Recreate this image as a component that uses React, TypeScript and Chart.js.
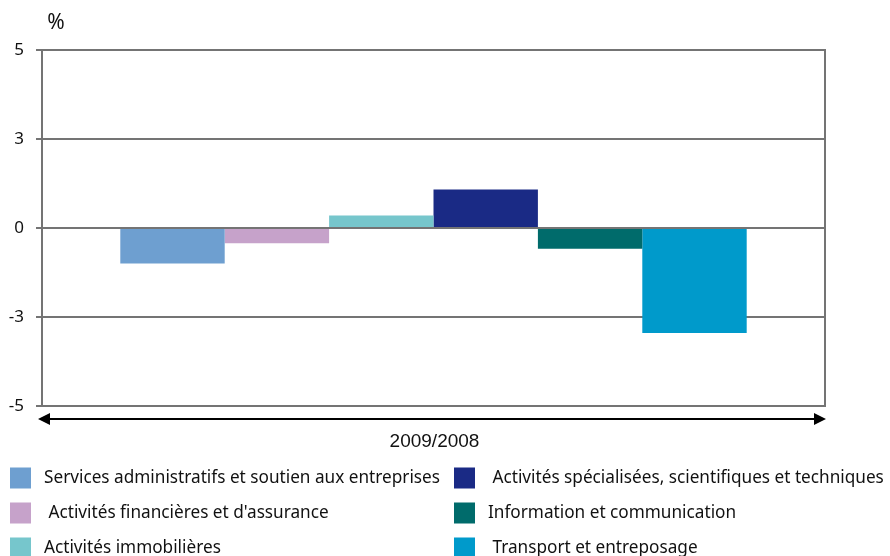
import React, { useEffect, useRef } from "react";
import { Chart, registerables } from "chart.js";

Chart.register(...registerables);

const categories = ["2009/2008"];
const seriesNames = [
  "Services administratifs et soutien aux entreprises",
  " Activités financières et d'assurance",
  "Activités immobilières",
  " Activités spécialisées, scientifiques et techniques",
  "Information et communication",
  " Transport et entreposage",
];
const seriesValues = [-1.0, -0.43, 0.35, 1.08, -0.58, -2.95];
const seriesColors = ["#6E9FD0", "#C6A2CA", "#76C6CC", "#1A2A85", "#006B6B", "#009ACB"];
const yTickLabels = ["-5", "-3", "0", "3", "5"];
const yUnit = "%";

const FONT = "'Noto Sans', 'Open Sans', sans-serif";

const decorPlugin = {
  id: "decor",
  afterDraw(chart: any) {
    const { ctx, chartArea } = chart;
    const { left, right, top, bottom } = chartArea;
    ctx.save();
    // right border
    ctx.strokeStyle = "#747474";
    ctx.lineWidth = 2;
    ctx.beginPath();
    ctx.moveTo(right, top - 1);
    ctx.lineTo(right, bottom + 1);
    ctx.stroke();

    // unit label
    ctx.fillStyle = "#111";
    ctx.font = `21px ${FONT}`;
    ctx.textAlign = "center";
    ctx.textBaseline = "middle";
    ctx.fillText(yUnit, 56, 23);

    // double arrow
    const ay = 419;
    const ax1 = left - 4;
    const ax2 = right + 1;
    ctx.strokeStyle = "#000";
    ctx.fillStyle = "#000";
    ctx.lineWidth = 2;
    ctx.beginPath();
    ctx.moveTo(ax1 + 8, ay);
    ctx.lineTo(ax2 - 8, ay);
    ctx.stroke();
    ctx.beginPath();
    ctx.moveTo(ax1, ay);
    ctx.lineTo(ax1 + 12, ay - 6);
    ctx.lineTo(ax1 + 12, ay + 6);
    ctx.closePath();
    ctx.fill();
    ctx.beginPath();
    ctx.moveTo(ax2, ay);
    ctx.lineTo(ax2 - 12, ay - 6);
    ctx.lineTo(ax2 - 12, ay + 6);
    ctx.closePath();
    ctx.fill();

    // category label
    ctx.fillStyle = "#111";
    ctx.font = "19px 'Liberation Sans', Arial, sans-serif";
    ctx.textAlign = "center";
    ctx.fillText(categories[0], (left + right) / 2 + 1, 442);

    // legend
    const colX = [10, 454];
    const rowY = [478, 513, 548];
    ctx.font = `17.2px ${FONT}`;
    ctx.textAlign = "left";
    chart.data.datasets.forEach((ds: any, i: number) => {
      const col = i < 3 ? 0 : 1;
      const row = i % 3;
      const bx = colX[col];
      const cy = rowY[row];
      ctx.fillStyle = ds.backgroundColor;
      ctx.fillRect(bx, cy - 10.5, 21, 21);
      ctx.fillStyle = "#111";
      ctx.fillText(ds.label, bx + 34, cy);
    });
    ctx.restore();
  },
};

export default function App() {
  const ref = useRef<HTMLCanvasElement>(null);
  useEffect(() => {
    document.body.style.margin = "0";
    const chart = new Chart(ref.current!, {
      type: "bar",
      data: {
        labels: categories,
        datasets: seriesNames.map((name, i) => ({
          label: name,
          data: [seriesValues[i]],
          backgroundColor: seriesColors[i],
          borderWidth: 0,
          categoryPercentage: 0.8,
          barPercentage: 1.0,
        })),
      },
      options: {
        animation: false,
        responsive: false,
        layout: { padding: { top: 50, bottom: 150, left: 0, right: 65 } },
        plugins: { legend: { display: false }, tooltip: { enabled: false } },
        scales: {
          x: { display: false },
          y: {
            min: -5,
            max: 5,
            afterFit: (s: any) => {
              s.width = 42;
            },
            ticks: {
              stepSize: 2.5,
              padding: 12,
              color: "#111",
              font: { family: FONT, size: 17 },
              callback: (_v: any, index: number) => yTickLabels[index],
            },
            grid: {
              color: "#747474",
              lineWidth: 2,
              tickLength: 6,
            },
            border: { display: true, color: "#747474", width: 2 },
          },
        },
      },
      plugins: [decorPlugin],
    });
    return () => chart.destroy();
  }, []);
  return <canvas ref={ref} width={890} height={556} style={{ display: "block" }} />;
}
